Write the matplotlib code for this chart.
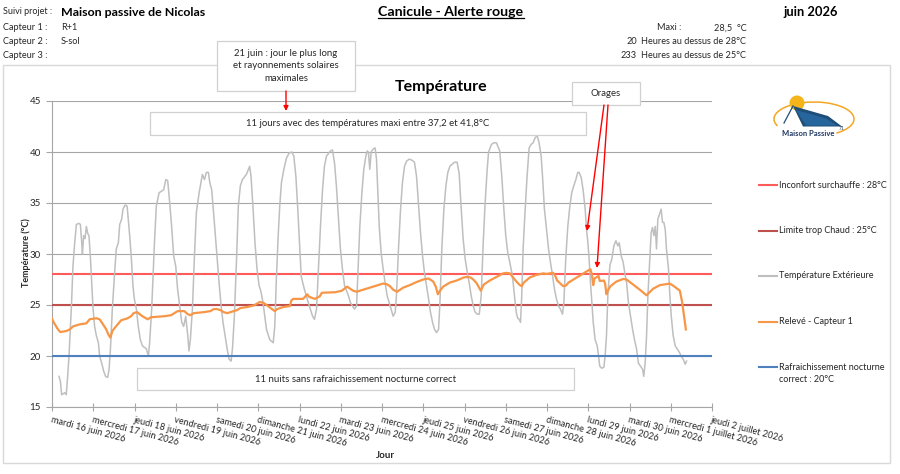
import matplotlib
matplotlib.use('Agg')
import matplotlib.pyplot as plt
from matplotlib.patches import Rectangle, Ellipse, Polygon, Arc, FancyArrowPatch
from matplotlib.lines import Line2D

plt.rcParams['font.family'] = ['Lato', 'DejaVu Sans']

# ---------------- data ----------------
day_labels = ["mardi 16 juin 2026", "mercredi 17 juin 2026", "jeudi 18 juin 2026",
              "vendredi 19 juin 2026", "samedi 20 juin 2026", "dimanche 21 juin 2026",
              "lundi 22 juin 2026", "mardi 23 juin 2026", "mercredi 24 juin 2026",
              "jeudi 25 juin 2026", "vendredi 26 juin 2026", "samedi 27 juin 2026",
              "dimanche 28 juin 2026", "lundi 29 juin 2026", "mardi 30 juin 2026",
              "mercredi 1 juillet 2026", "jeudi 2 juillet 2026"]

# hours since 16 June 00:00
ext_hours = [4.1, 4.9, 5.6, 7.4, 8.3, 9.1, 9.9, 11.3, 12.2, 13.2, 14.2, 15.7, 16.5, 17.3, 17.7,
             18.4, 19.2, 20.0, 20.8, 21.5, 22.3, 23.1, 23.9, 24.8, 25.8, 27.0, 27.7, 28.9, 30.1,
             31.2, 32.4, 33.2, 34.0, 35.1, 36.3, 37.4, 38.6, 39.4, 40.5, 41.3, 42.5, 43.7, 44.4,
             45.2, 46.2, 47.1, 47.9, 49.1, 50.2, 51.4, 52.6, 54.9, 56.1, 56.8, 58.0, 59.6, 60.7,
             62.3, 65.0, 66.2, 67.3, 68.5, 69.6, 70.8, 72.0, 73.1, 74.3, 75.5, 76.6, 77.8, 79.0,
             79.7, 80.5, 81.7, 82.8, 84.0, 85.6, 87.5, 88.7, 89.8, 91.0, 91.8, 92.9, 93.7, 94.9,
             96.0, 97.2, 98.4, 99.5, 100.7, 101.9, 103.0, 104.2, 105.0, 106.1, 107.3, 108.4,
             109.6, 110.8, 113.1, 114.3, 115.0, 115.8, 117.0, 118.1, 119.3, 120.5, 121.6, 122.8,
             124.8, 126.7, 128.7, 129.6, 130.6, 131.6, 132.5, 133.5, 134.9, 136.4, 138.0, 139.5,
             140.7, 141.9, 143.0, 144.2, 145.0, 146.9, 149.2, 151.6, 152.7, 153.9, 155.0, 156.2,
             157.4, 158.5, 159.7, 162.0, 163.2, 164.4, 165.5, 166.7, 167.8, 169.0, 170.2, 172.5,
             173.7, 176.0, 177.2, 177.9, 179.1, 180.3, 181.4, 182.6, 183.4, 184.1, 184.9, 185.7,
             186.9, 188.0, 188.8, 189.6, 190.4, 191.5, 192.7, 193.8, 195.0, 197.3, 198.5, 199.7,
             200.4, 201.6, 202.8, 203.9, 205.1, 206.3, 207.8, 209.4, 210.9, 212.1, 213.2, 214.4,
             215.6, 216.7, 217.9, 219.1, 220.2, 221.4, 222.6, 223.7, 224.9, 225.7, 226.8, 228.0,
             229.2, 230.3, 231.5, 234.2, 235.7, 236.9, 238.1, 239.2, 240.4, 241.6, 242.7, 243.9,
             245.1, 246.2, 247.4, 248.6, 249.7, 250.9, 252.0, 253.2, 254.0, 255.7, 257.0, 258.6,
             260.5, 261.7, 262.9, 264.0, 265.2, 266.4, 267.5, 268.3, 269.5, 270.2, 271.0, 271.8,
             272.6, 273.3, 274.1, 275.3, 276.4, 277.6, 278.8, 279.9, 281.1, 282.3, 283.4, 284.6,
             285.4, 286.5, 287.7, 288.9, 290.0, 291.2, 292.4, 293.5, 294.7, 295.8, 297.0, 297.8,
             298.9, 300.1, 301.3, 302.4, 303.6, 304.8, 305.9, 306.7, 307.9, 309.0, 310.2, 311.0,
             311.8, 312.5, 313.3, 314.1, 314.9, 316.0, 317.2, 318.0, 318.7, 319.9, 321.1, 321.8,
             322.6, 323.4, 324.6, 325.7, 326.9, 328.1, 329.2, 330.0, 331.2, 332.3, 333.5, 334.3,
             335.4, 336.6, 337.8, 338.9, 340.1, 341.2, 342.4, 343.6, 344.3, 345.1, 345.9, 346.7,
             347.8, 348.6, 349.4, 350.2, 351.0, 351.7, 352.5, 353.7, 354.4, 355.2, 356.0, 356.8,
             357.5, 358.7, 359.5, 360.3, 361.4, 362.6, 363.7, 364.9, 366.1, 367.2, 368.4, 369.2]
ext_temp = [18.0, 17.5, 16.2, 16.4, 16.2, 18.0, 20.0, 24.9, 28.8, 31.1, 32.9, 33.0, 32.9, 31.1, 30.0,
            31.8, 31.5, 32.7, 32.0, 31.8, 29.8, 27.2, 24.6, 22.9, 22.0, 21.3, 20.0, 19.3, 18.5,
            18.0, 17.9, 18.7, 20.7, 24.6, 27.8, 30.5, 31.1, 32.9, 33.4, 34.4, 34.8, 34.7, 33.4,
            31.8, 29.5, 26.9, 25.6, 24.6, 22.9, 21.6, 21.0, 20.7, 20.0, 21.3, 24.6, 31.1, 34.7,
            36.0, 36.3, 37.3, 37.2, 35.0, 32.7, 29.8, 28.8, 26.5, 24.9, 23.3, 22.9, 23.9, 22.0,
            20.5, 21.6, 24.6, 29.5, 34.1, 36.0, 37.8, 37.3, 38.0, 38.0, 37.0, 36.3, 34.7, 32.1,
            29.8, 27.2, 24.9, 23.3, 22.0, 20.7, 19.7, 19.5, 20.7, 23.9, 29.2, 34.7,
            36.7, 37.3, 37.8, 38.3, 38.6, 37.6, 34.4, 31.1, 28.5, 26.9, 26.3, 25.2,
            22.6, 21.6, 21.3, 22.9, 27.8, 31.8, 34.7, 37.0, 38.3, 39.4, 39.9, 40.0,
            39.6, 37.6, 34.4, 30.5, 27.8, 26.5, 25.2, 23.9, 23.6, 24.6, 28.5, 32.7,
            36.3, 38.6, 39.6, 40.1, 40.2, 38.9, 36.6, 33.4, 30.5, 28.5, 26.9, 25.9,
            25.2, 24.6, 24.9, 27.8, 32.7, 36.0, 38.3, 39.6, 40.1, 40.0, 38.3, 40.0,
            40.3, 40.4, 39.3, 36.0, 32.7, 30.1, 28.5, 27.2, 25.9, 24.6, 23.9, 24.3,
            25.9, 30.5, 34.4, 37.0, 38.6, 39.1, 39.3, 39.2, 39.0, 37.6, 35.0, 32.1,
            29.8, 28.2, 26.9, 25.6, 24.3, 23.3, 22.6, 22.3, 22.6, 25.2, 30.5, 34.4,
            36.7, 38.0, 38.6, 39.0, 39.0, 37.9, 34.4, 31.5, 29.5, 28.2, 27.2, 25.9,
            24.9, 24.3, 24.1, 24.1, 25.9, 31.1, 35.0, 38.3, 40.0, 40.75, 40.9, 40.9,
            40.1, 37.6, 34.4, 31.8, 30.1, 29.15, 28.2, 27.2, 25.2, 24.2, 23.7, 23.6,
            23.3, 25.9, 30.5, 34.4, 37.6, 40.4, 40.75, 40.9, 41.4, 41.6, 40.9, 39.6,
            37.6, 34.4, 32.4, 30.5, 29.2, 27.9, 26.5, 25.6, 24.9, 24.6, 24.1, 25.2,
            29.5, 32.7, 34.7, 36.0, 36.7, 37.3, 38.0, 38.0, 37.5, 36.3, 34.4, 32.4,
            31.1, 29.5, 27.2, 25.2, 23.3, 21.6, 21.0, 20.0, 19.0, 18.8, 18.9, 20.0,
            22.0, 25.9, 28.9, 29.5, 30.8, 31.3, 30.8, 31.1, 29.8, 29.2, 27.9, 27.2,
            25.2, 23.9, 22.6, 21.6, 20.7, 19.3, 19.0, 18.7, 18.0, 19.3, 21.9, 25.9,
            29.5, 32.1, 32.6, 31.8, 32.7, 30.5, 33.4, 34.05, 34.4, 33.1, 33.1, 32.4,
            30.5, 28.5, 25.9, 23.9, 22.0, 21.0, 20.7, 20.4, 20.0, 19.7, 19.2, 19.5]

int_hours = [0, 1.0, 2.1, 3.5, 4.85, 8.3, 10.3, 12.2, 14.2, 16.1, 20.0, 21.9, 25.8, 27.7, 29.7,
             31.6, 32.8, 34.0, 35.1, 36.7, 38.2, 40.2, 44.0, 46.0, 47.5, 49.5, 51.0, 52.6, 55.7,
             57.6, 61.5, 65.4, 69.3, 71.2, 73.1, 77.0, 79.0, 80.5, 82.5, 88.3, 92.2, 94.1, 96.0,
             98.0, 99.9, 101.9, 103.8, 107.7, 109.6, 113.5, 117.4, 120.9, 123.2, 124.8, 126.7,
             129.6, 131.0, 134.5, 138.4, 139.3, 140.3, 146.1, 148.5, 149.6, 152.9, 155.8, 157.0,
             164.7, 168.6, 171.7, 175.2, 177.2, 181.0, 184.9, 190.7, 192.7, 194.6, 196.6, 198.5,
             200.8, 204.3, 208.2, 212.1, 216.0, 219.1, 221.8, 223.3, 224.5, 225.7, 227.6, 231.5,
             235.4, 239.6, 241.6, 243.5, 245.1, 247.0, 249.5, 251.2, 254.7, 258.6, 262.5, 264.4,
             266.4, 268.3, 270.2, 272.2, 273.3, 274.5, 278.0, 281.9, 285.8, 287.7, 291.6, 292.7,
             293.9, 295.5, 297.4, 299.0, 300.5, 304.4, 308.3, 312.1, 313.3, 314.1, 314.9, 315.6,
             318.0, 318.7, 321.1, 321.8, 322.6, 323.4, 324.9, 328.4, 332.3, 334.3, 338.1, 342.0,
             345.9, 349.8, 353.7, 359.5, 362.2, 365.3, 366.5, 367.6, 368.8]
int_temp = [23.66, 23.3, 23.0, 22.6, 22.35, 22.45, 22.6, 22.9, 23.0, 23.1, 23.2, 23.6, 23.7, 23.6, 23.1,
            22.6, 22.1, 21.8, 22.45, 22.8, 23.1, 23.5, 23.7, 23.9, 24.2, 24.3, 24.1, 23.9, 23.6,
            23.8, 23.85, 23.9, 24.0, 24.2, 24.4, 24.4, 24.1, 24.0, 24.2, 24.3, 24.4, 24.6, 24.6,
            24.5, 24.3, 24.2, 24.3, 24.5, 24.7, 24.8, 24.95, 25.3, 25.2, 25.0, 24.75,
            24.4, 24.6, 24.8, 24.9, 25.45, 25.6, 25.6, 26.05, 25.8, 25.6, 25.85, 26.2,
            26.25, 26.4, 26.8, 26.4, 26.3, 26.5, 26.7, 27.0, 27.1, 27.05, 26.85, 26.5,
            26.3, 26.7, 26.95, 27.25, 27.5, 27.6, 27.3, 26.8, 26.05, 26.4, 26.8, 27.2,
            27.4, 27.7, 27.75, 27.7, 27.5, 27.15, 26.4, 27.0, 27.4, 27.75, 28.1, 28.15,
            28.1, 27.7, 27.3, 26.95, 26.85, 27.2, 27.7, 27.95, 28.1, 28.05, 28.15, 27.9,
            27.4, 27.15, 26.85, 26.9, 27.2, 27.6, 28.0, 28.4, 28.5, 28.0, 26.95, 27.6,
            27.85, 27.35, 27.4, 27.1, 26.05, 26.4, 26.85, 27.3, 27.55, 27.5, 27.0, 26.5,
            25.95, 26.6, 26.95, 27.1, 26.8, 26.4, 25.4, 24.1, 22.6]

seuil_surchauffe = 28
seuil_chaud = 25
seuil_nocturne = 20

# ---------------- figure ----------------
W, H = 900, 474
fig = plt.figure(figsize=(W / 100, H / 100), dpi=100)
fig.patch.set_facecolor('white')


def fx(x):
    return x / W


def fy(y):
    return 1 - y / H


# outer chart border
fig.patches.append(Rectangle((fx(3), fy(463)), (890 - 3) / W, (463 - 65) / H,
                             transform=fig.transFigure, facecolor='none',
                             edgecolor='#D9D9D9', lw=1, zorder=-1))

ax = fig.add_axes([fx(52), fy(407), (712 - 52) / W, (407 - 101) / H])
ax.set_facecolor('none')

xd_ext = [h / 24 for h in ext_hours]
xd_int = [h / 24 for h in int_hours]
ax.axhline(seuil_surchauffe, color='#FF5B5B', lw=1.5, zorder=3)
ax.axhline(seuil_chaud, color='#C0504D', lw=1.5, zorder=3)
ax.plot(xd_ext, ext_temp, color='#BFBFBF', lw=1.1, zorder=4)
ax.plot(xd_int, int_temp, color='#F79646', lw=1.6, zorder=5)
ax.axhline(seuil_nocturne, color='#4F81BD', lw=1.5, zorder=6)

ax.set_xlim(0, 16)
ax.set_ylim(15, 45)
ax.set_yticks(range(15, 46, 5))
ax.set_xticks(range(17))
ax.set_xticklabels(day_labels, rotation=-15, ha='left', va='top',
                   rotation_mode='anchor', fontsize=6.6, color='#262626')
ax.tick_params(axis='y', labelsize=7, labelcolor='#262626', color='#A6A6A6',
               direction='out', length=4, pad=4)
ax.tick_params(axis='x', color='#A6A6A6', direction='inout', length=6, pad=3)
ax.grid(axis='y', color='#A6A6A6', lw=0.8, zorder=1)
ax.set_axisbelow(True)
for s in ['top', 'right']:
    ax.spines[s].set_visible(False)
for s in ['left', 'bottom']:
    ax.spines[s].set_color('#A6A6A6')
    ax.spines[s].set_linewidth(0.8)

# axis titles
fig.text(fx(26), fy(253), 'Température (°C)', rotation=90, ha='center', va='center',
         fontsize=6.5, fontweight='bold', color='#262626')
fig.text(fx(385), fy(455), 'Jour', ha='center', va='center', fontsize=7,
         fontweight='bold', color='#262626')
fig.text(fx(441), fy(87), 'Température', ha='center', va='center', fontsize=11.5,
         fontweight='bold', color='#000000')

# header
dark = '#262626'
fs = 6.6
fig.text(fx(3), fy(12), 'Suivi projet :', fontsize=6.5, va='center', color=dark)
fig.text(fx(61), fy(12), 'Maison passive de Nicolas', fontsize=8.9, va='center',
         fontweight='bold', color='#000000')
t_title = fig.text(fx(451), fy(12), 'Canicule - Alerte rouge', fontsize=10.2, va='center',
                   ha='center', fontweight='bold', color='#000000')
fig.text(fx(811), fy(12), 'juin 2026', fontsize=9.3, va='center', ha='center',
         fontweight='bold', color='#000000')
fig.text(fx(3), fy(28), 'Capteur 1 :', fontsize=fs, va='center', color=dark)
fig.text(fx(61), fy(28), 'R+1', fontsize=fs, va='center', color=dark)
fig.text(fx(3), fy(42), 'Capteur 2 :', fontsize=fs, va='center', color=dark)
fig.text(fx(61), fy(42), 'S-sol', fontsize=fs, va='center', color=dark)
fig.text(fx(3), fy(56), 'Capteur 3 :', fontsize=fs, va='center', color=dark)
fig.text(fx(657), fy(28), 'Maxi :', fontsize=fs, va='center', color=dark)
fig.text(fx(714), fy(28), '28,5  °C', fontsize=fs, va='center', color=dark)
fig.text(fx(637), fy(42), '20', fontsize=fs, va='center', ha='right', color=dark)
fig.text(fx(641), fy(42), 'Heures au dessus de 28°C', fontsize=fs, va='center', color=dark)
fig.text(fx(637), fy(56), '233', fontsize=fs, va='center', ha='right', color=dark)
fig.text(fx(641), fy(56), 'Heures au dessus de 25°C', fontsize=fs, va='center', color=dark)


def box(x0, y0, x1, y1, text, ls=1.3):
    fig.patches.append(Rectangle((fx(x0), fy(y1)), (x1 - x0) / W, (y1 - y0) / H,
                                 transform=fig.transFigure, facecolor='white',
                                 edgecolor='#D0D0D0', lw=0.9, zorder=10))
    fig.text(fx((x0 + x1) / 2), fy((y0 + y1) / 2), text, ha='center', va='center',
             fontsize=6.9, color=dark, linespacing=ls, zorder=11)


def arrow(x0, y0, x1, y1):
    fig.patches.append(FancyArrowPatch((fx(x0), fy(y0)), (fx(x1), fy(y1)),
                                       transform=fig.transFigure, arrowstyle='-|>',
                                       mutation_scale=7, color='#FF0000', lw=1,
                                       shrinkA=0, shrinkB=0, zorder=12))


box(217, 41, 355, 91, '21 juin : jour le plus long\net rayonnements solaires\nmaximales', 1.45)
box(150, 112, 586, 135, '11 jours avec des températures maxi entre 37,2 et 41,8°C')
box(572, 82, 640, 105, 'Orages')
box(137, 368, 574, 390, '11 nuits sans rafraichissement nocturne correct')
arrow(286, 91, 286, 111)
arrow(604, 105, 587, 231)
arrow(608, 105, 597, 268)

# legend
leg = [(185, 'Inconfort surchauffe : 28°C', '#FF5B5B'),
       (231, 'Limite trop Chaud : 25°C', '#C0504D'),
       (276, 'Température Extérieure', '#BFBFBF'),
       (322, 'Relevé - Capteur 1', '#F79646'),
       (367, 'Rafraichissement nocturne', '#4F81BD')]
for y, txt, c in leg:
    fig.add_artist(Line2D([fx(759), fx(777)], [fy(y), fy(y)], transform=fig.transFigure,
                          color=c, lw=1.5))
    fig.text(fx(779), fy(y), txt, fontsize=6.45, va='center', color=dark)
fig.text(fx(779), fy(379), 'correct : 20°C', fontsize=6.45, va='center', color=dark)

# logo
fig.patches.append(Arc((fx(814), fy(119)), 80 / W, 34 / H, angle=0,
                       theta1=-50, theta2=200, transform=fig.transFigure,
                       color='#F5A623', lw=1.1, zorder=13))
fig.patches.append(Ellipse((fx(797), fy(103)), 15 / W, 15 / H, transform=fig.transFigure,
                           facecolor='#F4B41A', edgecolor='none', zorder=14))
fig.patches.append(Polygon([(fx(793), fy(106)), (fx(828), fy(116)), (fx(842), fy(126.5)),
                            (fx(803), fy(126.5))], closed=True, transform=fig.transFigure,
                           facecolor='#1F4E79', edgecolor='none', zorder=15))
fig.patches.append(Polygon([(fx(796), fy(110)), (fx(826), fy(118.5)), (fx(837), fy(125.5)),
                            (fx(806), fy(125.5))], closed=True, transform=fig.transFigure,
                           facecolor='#2E75B6', edgecolor='none', alpha=0.6, zorder=16))
fig.add_artist(Line2D([fx(793), fx(784)], [fy(106), fy(123)], transform=fig.transFigure,
                      color='#1F4E79', lw=0.9, zorder=15))
fig.text(fx(808), fy(134), 'Maison Passive', fontsize=5.5, fontweight='bold',
         ha='center', va='center', color='#1F3864', zorder=16)
fig.text(fx(839), fy(129), '71', fontsize=3.5, ha='left', va='center',
         color='#1F3864', zorder=16)

# underline the main title
fig.canvas.draw()
bb = t_title.get_window_extent()
fig.add_artist(Line2D([bb.x0 / W, bb.x1 / W], [(bb.y0 + 0.5) / H, (bb.y0 + 0.5) / H],
                      transform=fig.transFigure, color='#000000', lw=0.9))

fig.savefig('out.png', dpi=100, facecolor='white')
